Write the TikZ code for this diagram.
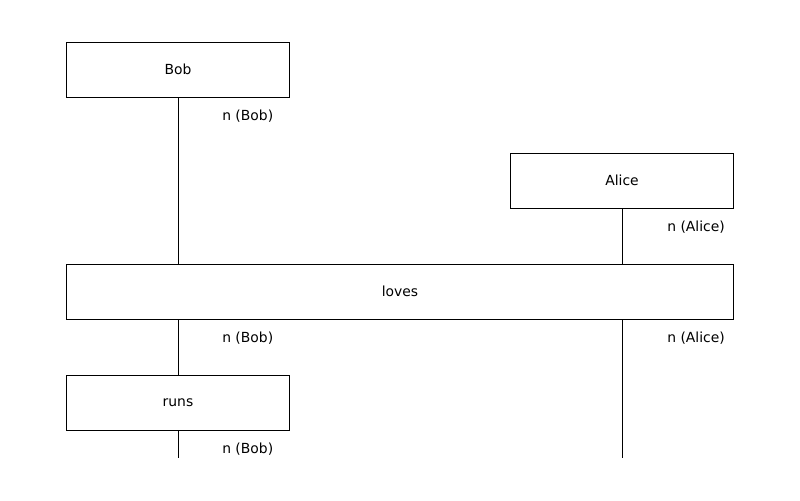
\documentclass[tikz,border=0pt]{standalone}
\usepackage{fontspec}
\setmainfont{DejaVu Sans}
\begin{document}
\begin{tikzpicture}[x=0.01in,y=-0.01in,
  box/.style={draw,line width=0.7pt,inner sep=0pt,minimum height=0.55in,font=\fontsize{10bp}{12bp}\selectfont},
  small/.style={box,minimum width=2.22in},
  wide/.style={box,minimum width=6.66in},
  wire/.style={line width=0.7pt},
  lbl/.style={anchor=west,inner sep=0pt,font=\fontsize{10bp}{12bp}\selectfont}]
\useasboundingbox (0,0) rectangle (800,500);
% boxes
\node[small] (bob) at (178,69.5) {Bob};
\node[small] (alice) at (622,180.5) {Alice};
\node[wide] (loves) at (400,291.5) {loves};
\node[small] (runs) at (178,403) {runs};
% open ends at the bottom
\coordinate (endb) at (178,458);
\coordinate (enda) at (622,458);
% wires
\draw[wire] (bob.south) -- (bob.south |- loves.north);
\draw[wire] (alice.south) -- (alice.south |- loves.north);
\draw[wire] (bob.south |- loves.south) -- (runs.north);
\draw[wire] (alice.south |- loves.south) -- (enda);
\draw[wire] (runs.south) -- (endb);
% type labels
\node[lbl] (t1) at (222,116) {n (Bob)};
\node[lbl] (t2) at (667,227) {n (Alice)};
\node[lbl] (t3) at (222,338) {n (Bob)};
\node[lbl] (t4) at (667,338) {n (Alice)};
\node[lbl] (t5) at (222,449) {n (Bob)};
\end{tikzpicture}
\end{document}
